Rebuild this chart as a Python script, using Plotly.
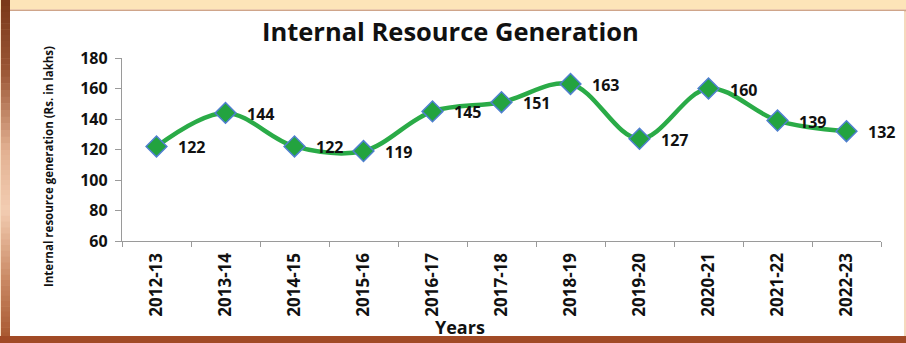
import plotly.graph_objects as go

years = ["2012-13", "2013-14", "2014-15", "2015-16", "2016-17", "2017-18",
         "2018-19", "2019-20", "2020-21", "2021-22", "2022-23"]
generation = [122, 144, 122, 119, 145, 151, 163, 127, 160, 139, 132]
y_ticks = [60, 80, 100, 120, 140, 160, 180]

FONT = "Open Sans"
W, H = 906, 343
L, R, T, B = 122, 25, 58, 102
PW, PH = W - L - R, H - T - B


def px(x):
    return (x - L) / PW


def py(y):
    return (H - B - y) / PH


def mix(c1, c2, t):
    a = [int(c1[i:i + 2], 16) for i in (1, 3, 5)]
    b = [int(c2[i:i + 2], 16) for i in (1, 3, 5)]
    return "#" + "".join(f"{round(u + (v - u) * t):02x}" for u, v in zip(a, b))


fig = go.Figure()
fig.add_trace(go.Scatter(
    x=years, y=generation, mode="lines+markers",
    line=dict(color="#2aab47", width=4.5, shape="spline", smoothing=1),
    marker=dict(symbol="diamond", size=16, color="#23a33f",
                line=dict(color="#4f7fcf", width=1.5)),
    hoverinfo="x+y", showlegend=False,
))

# value labels to the right of each point
for yr, v in zip(years, generation):
    fig.add_annotation(x=yr, y=v, text=str(v), showarrow=False,
                       xanchor="left", yanchor="middle", xshift=19, yshift=-1,
                       font=dict(family=FONT, size=16, color="#111", weight="bold"))

shapes = []
# frame: peach top band, shaded brown left band, rust bottom band
shapes.append(dict(type="rect", xref="paper", yref="paper", layer="below",
                   x0=px(0), x1=px(W), y0=py(0), y1=py(H),
                   fillcolor="#f6d9bd", line_width=0))
shapes.append(dict(type="rect", xref="paper", yref="paper", layer="below",
                   x0=px(0), x1=px(W), y0=py(0), y1=py(9),
                   fillcolor="#fde4b8", line_width=0))
stops = [(0, "#7a3819"), (70, "#9a5534"), (150, "#e2b091"),
         (210, "#f3cdb2"), (280, "#c98863"), (343, "#a5532c")]
for (ya, ca), (yb, cb) in zip(stops[:-1], stops[1:]):
    n = 12
    for k in range(n):
        y0 = ya + (yb - ya) * k / n
        y1 = ya + (yb - ya) * (k + 1) / n
        shapes.append(dict(type="rect", xref="paper", yref="paper", layer="below",
                           x0=px(1), x1=px(10), y0=py(y0), y1=py(y1 + 0.5),
                           fillcolor=mix(ca, cb, (k + 0.5) / n), line_width=0))
shapes.append(dict(type="rect", xref="paper", yref="paper", layer="below",
                   x0=px(0), x1=px(W), y0=py(336), y1=py(H),
                   fillcolor="#a14a26", line_width=0))
shapes.append(dict(type="line", xref="paper", yref="paper", layer="below",
                   x0=px(10), x1=px(W), y0=py(10.5), y1=py(10.5),
                   line=dict(color="#cfa58a", width=1.5)))
shapes.append(dict(type="rect", xref="paper", yref="paper", layer="below",
                   x0=px(10), x1=px(904), y0=py(11), y1=py(336),
                   fillcolor="white", line_width=0))

fig.add_annotation(xref="paper", yref="paper", x=px(450), y=py(31),
                   text="Internal Resource Generation", showarrow=False,
                   xanchor="center", yanchor="middle",
                   font=dict(family=FONT, size=25.5, color="#111", weight="bold"))
fig.add_annotation(xref="paper", yref="paper", x=px(48), y=py(167),
                   text="Internal resource generation (Rs. in lakhs)",
                   textangle=-90, showarrow=False, xanchor="center", yanchor="middle",
                   font=dict(family=FONT, size=11.5, color="#111", weight="bold"))
fig.add_annotation(xref="paper", yref="paper", x=px(460), y=py(327),
                   text="Years", showarrow=False,
                   xanchor="center", yanchor="middle",
                   font=dict(family=FONT, size=18, color="#111", weight="bold"))

fig.update_layout(
    width=W, height=H,
    margin=dict(l=L, r=R, t=T, b=B, pad=0),
    paper_bgcolor="white", plot_bgcolor="rgba(0,0,0,0)",
    shapes=shapes,
    font=dict(family=FONT, color="#111"),
    xaxis=dict(type="category", range=[-0.5, len(years) - 0.5],
               showline=True, linecolor="#9a9a9a", linewidth=1.3,
               ticks="outside", ticklen=5, tickcolor="#9a9a9a",
               tickson="boundaries", showgrid=False, zeroline=False,
               tickangle=-90, ticklabelstandoff=4,
               tickfont=dict(family=FONT, size=17, color="#111", weight="bold")),
    yaxis=dict(range=[60, 180], tickvals=y_ticks,
               showline=True, linecolor="#9a9a9a", linewidth=1.3,
               ticks="outside", ticklen=6, tickcolor="#9a9a9a",
               showgrid=False, zeroline=False,
               tickfont=dict(family=FONT, size=16, color="#111", weight="bold"),
               ticklabelstandoff=4),
)

fig.write_html("out.html")
